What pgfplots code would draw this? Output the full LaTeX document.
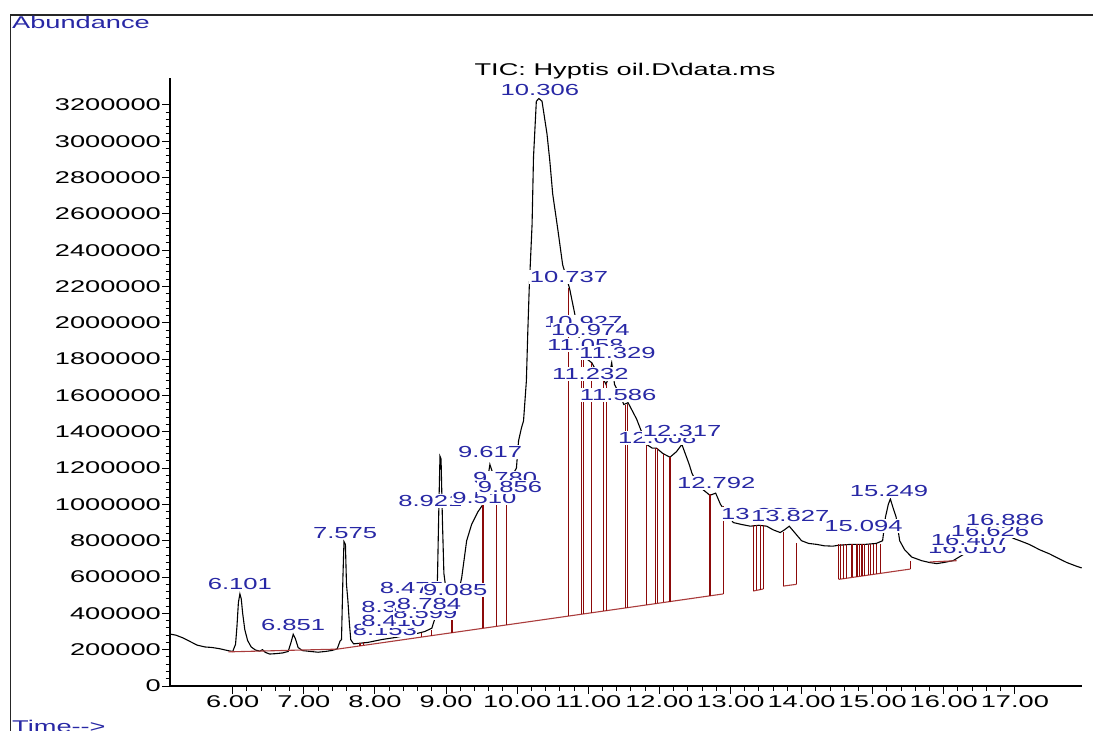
\documentclass[border=0pt]{standalone}
\usepackage{fontspec}
\setmainfont{Liberation Sans}
\newfontfamily\wide{Liberation Sans}[FakeStretch=1.6]
\usepackage{pgfplots}
\pgfplotsset{compat=1.18}
\definecolor{peakblue}{RGB}{40,40,165}
\definecolor{dropred}{RGB}{140,10,10}
\definecolor{basered}{RGB}{170,60,60}
\newcommand\tickfont{\wide\fontsize{17bp}{20bp}\selectfont}
\newcommand\pkfont{\wide\fontsize{16bp}{19bp}\selectfont}
\tikzset{pk/.style={font=\pkfont, text=peakblue, fill=white, inner xsep=0.5bp, inner ysep=1bp}}

\begin{document}
\begin{tikzpicture}
\useasboundingbox (0bp,0bp) rectangle (1093bp,731bp);
% outer frame
\draw[line width=1.2bp, black!85] (10.5bp,-5bp) -- (10.5bp,716bp) -- (1100bp,716bp);
\node[anchor=base west, text=peakblue, font=\tickfont, inner sep=0] at (12bp,702bp) {Abundance};
\node[anchor=base west, text=peakblue, font=\tickfont, inner sep=0] at (12bp,-1bp) {Time-{}-{}>};
\node[anchor=base, font=\tickfont, inner sep=0] at (625bp,655bp) {TIC: Hyptis oil.D\textbackslash data.ms};

\begin{axis}[
  at={(170bp,45bp)}, anchor=south west,
  scale only axis, width=911.7bp, height=608bp,
  xmin=5.118, xmax=17.94, ymin=0, ymax=3348000,
  axis x line=bottom, axis y line=left,
  axis line style={-, line width=1.2bp, black},
  xtick={6,7,8,9,10,11,12,13,14,15,16,17}, minor x tick num=4,
  ytick={0,200000,400000,600000,800000,1000000,1200000,1400000,1600000,1800000,2000000,2200000,2400000,2600000,2800000,3000000,3200000},
  minor y tick num=4,
  tick align=outside, major tick length=8bp, minor tick length=4.5bp,
  every tick/.style={line width=1bp, black},
  scaled y ticks=false, scaled x ticks=false,
  xticklabel style={font=\tickfont, inner sep=1bp,
    /pgf/number format/.cd, fixed, fixed zerofill, precision=2, assume math mode=true},
  yticklabel style={font=\tickfont, inner sep=1bp,
    /pgf/number format/.cd, fixed, precision=0, 1000 sep={}, assume math mode=true},
  clip=false,
  unbounded coords=jump,
]
% total ion chromatogram
\addplot[black, line width=1.1bp] coordinates {
(5.12,286000)(5.20,280000)(5.30,265000)(5.40,245000)(5.50,225000)(5.61,215000)
(5.71,212000)(5.82,205000)(5.93,195000)(6.00,190000)(6.04,230000)(6.06,330000)
(6.08,460000)(6.101,507000)(6.12,480000)(6.14,400000)(6.17,310000)(6.21,250000)
(6.26,215000)(6.32,198000)(6.38,192000)(6.42,200000)(6.46,185000)(6.52,176000)
(6.60,178000)(6.70,182000)(6.78,190000)(6.82,240000)(6.851,285000)(6.88,262000)
(6.92,212000)(6.98,195000)(7.10,190000)(7.20,186000)(7.30,190000)(7.40,196000)
(7.47,205000)(7.51,248000)(7.53,255000)(7.55,600000)(7.565,795000)(7.585,780000)
(7.60,560000)(7.62,470000)(7.64,350000)(7.66,255000)(7.70,232000)(7.80,236000)
(7.90,240000)(8.00,248000)(8.10,256000)(8.20,262000)(8.30,268000)(8.40,276000)
(8.50,283000)(8.60,290000)(8.70,300000)(8.80,318000)(8.85,380000)(8.88,600000)
(8.90,1000000)(8.915,1265000)(8.93,1250000)(8.95,900000)(8.97,620000)(8.99,560000)
(9.03,430000)(9.08,370000)(9.14,450000)(9.22,596000)(9.29,800000)(9.36,890000)
(9.45,960000)(9.52,1000000)(9.57,1100000)(9.617,1220000)(9.65,1180000)(9.71,1120000)
(9.78,1150000)(9.82,1100000)(9.856,1120000)(9.92,1150000)(9.99,1200000)(10.02,1350000)
(10.06,1420000)(10.09,1460000)(10.13,1680000)(10.15,1950000)(10.17,2190000)
(10.21,2540000)(10.23,2910000)(10.27,3220000)(10.306,3235000)(10.35,3220000)
(10.42,3040000)(10.46,2890000)(10.50,2710000)(10.57,2520000)(10.64,2320000)
(10.737,2190000)(10.81,2050000)(10.88,1900000)(10.95,1810000)(11.05,1780000)
(11.12,1730000)(11.20,1700000)(11.25,1660000)(11.30,1720000)(11.33,1780000)
(11.37,1660000)(11.45,1600000)(11.50,1550000)(11.56,1560000)(11.68,1470000)
(11.75,1400000)(11.82,1330000)(11.90,1310000)(11.96,1310000)(12.05,1280000)
(12.15,1260000)(12.24,1290000)(12.317,1330000)(12.42,1220000)(12.46,1170000)
(12.55,1100000)(12.65,1070000)(12.71,1050000)(12.792,1062000)(12.86,1000000)
(12.95,950000)(13.04,900000)(13.15,890000)(13.28,880000)(13.40,885000)(13.51,880000)
(13.60,860000)(13.70,845000)(13.76,860000)(13.827,880000)(13.87,860000)(13.92,837000)
(14.00,800000)(14.10,785000)(14.21,780000)(14.32,772000)(14.44,770000)(14.52,775000)
(14.70,780000)(14.90,780000)(15.05,785000)(15.14,800000)(15.18,930000)(15.22,1000000)
(15.249,1030000)(15.28,990000)(15.33,930000)(15.38,800000)(15.45,750000)(15.55,710000)
(15.69,690000)(15.80,680000)(15.90,674000)(16.00,680000)(16.13,690000)(16.30,730000)
(16.50,770000)(16.70,800000)(16.886,830000)(17.00,810000)(17.07,800000)(17.20,780000)
(17.35,750000)(17.49,727000)(17.60,705000)(17.73,680000)(17.85,662000)(17.94,650000)
};
% integration baselines
\addplot[basered, line width=1.1bp] coordinates {(5.94,188000)(7.47,203000)(12.90,507000)};
\addplot[basered, line width=1.1bp] coordinates {(13.32,523000)(13.46,534000)};
\addplot[basered, line width=1.1bp] coordinates {(13.74,550000)(13.93,560000)};
\addplot[basered, line width=1.1bp] coordinates {(14.52,587000)(15.53,644000)};
\addplot[basered, line width=1.1bp] coordinates {(15.80,683000)(16.18,690000)};
% peak boundary drop lines
\addplot[dropred, line width=1.1bp] coordinates {
(7.78,221000)(7.78,235000)(7.78,nan)
(7.80,222000)(7.80,238000)(7.80,nan)
(7.84,225000)(7.84,240000)(7.84,nan)
(8.66,270000)(8.66,290000)(8.66,nan)
(8.80,278000)(8.80,310000)(8.80,nan)
(9.075,294000)(9.075,370000)(9.075,nan)
(9.085,294000)(9.085,370000)(9.085,nan)
(9.52,318000)(9.52,1000000)(9.52,nan)
(9.71,329000)(9.71,1120000)(9.71,nan)
(9.845,337000)(9.845,1120000)(9.845,nan)
(9.855,337000)(9.855,1120000)(9.855,nan)
(10.72,385000)(10.72,2190000)(10.72,nan)
(10.91,396000)(10.91,1890000)(10.91,nan)
(10.93,397000)(10.93,1870000)(10.93,nan)
(11.05,404000)(11.05,1780000)(11.05,nan)
(11.21,413000)(11.21,1690000)(11.21,nan)
(11.26,415000)(11.26,1670000)(11.26,nan)
(11.52,430000)(11.52,1550000)(11.52,nan)
(11.55,432000)(11.55,1555000)(11.55,nan)
(11.82,447000)(11.82,1330000)(11.82,nan)
(11.94,453000)(11.94,1310000)(11.94,nan)
(11.98,456000)(11.98,1310000)(11.98,nan)
(12.06,460000)(12.06,1280000)(12.06,nan)
(12.15,465000)(12.15,1260000)(12.15,nan)
(12.705,496000)(12.705,1055000)(12.705,nan)
(12.715,496000)(12.715,1055000)(12.715,nan)
(12.90,507000)(12.90,990000)(12.90,nan)
(13.32,523000)(13.32,885000)(13.32,nan)
(13.37,526000)(13.37,885000)(13.37,nan)
(13.42,530000)(13.42,885000)(13.42,nan)
(13.46,534000)(13.46,885000)(13.46,nan)
(13.74,550000)(13.74,850000)(13.74,nan)
(13.93,560000)(13.93,785000)(13.93,nan)
(14.52,587000)(14.52,780000)(14.52,nan)
(14.55,589000)(14.55,780000)(14.55,nan)
(14.59,591000)(14.59,780000)(14.59,nan)
(14.63,593000)(14.63,780000)(14.63,nan)
(14.71,598000)(14.71,780000)(14.71,nan)
(14.78,602000)(14.78,780000)(14.78,nan)
(14.81,603000)(14.81,780000)(14.81,nan)
(14.85,606000)(14.85,780000)(14.85,nan)
(14.89,608000)(14.89,780000)(14.89,nan)
(14.94,611000)(14.94,780000)(14.94,nan)
(14.97,612000)(14.97,780000)(14.97,nan)
(15.01,615000)(15.01,780000)(15.01,nan)
(15.06,617000)(15.06,780000)(15.06,nan)
(15.11,620000)(15.11,780000)(15.11,nan)
(15.53,644000)(15.53,688000)
};
% retention time labels
\node[pk] at (axis cs:6.10,562000) {6.101};
\node[pk] at (axis cs:6.85,336000) {6.851};
\node[pk] at (axis cs:7.58,843000) {7.575};
\node[pk] at (axis cs:8.14,308000) {8.153};
\node[pk] at (axis cs:8.26,358000) {8.410};
\node[pk] at (axis cs:8.26,435000) {8.338};
\node[pk] at (axis cs:8.71,402000) {8.599};
\node[pk] at (axis cs:8.76,452000) {8.784};
\node[pk] at (axis cs:8.52,540000) {8.475};
\node[pk] at (axis cs:9.13,529000) {9.085};
\node[pk] at (axis cs:8.78,1019000) {8.921};
\node[pk] at (axis cs:9.54,1035000) {9.510};
\node[pk] at (axis cs:9.62,1289000) {9.617};
\node[pk] at (axis cs:9.83,1145000) {9.780};
\node[pk] at (axis cs:9.90,1096000) {9.856};
\node[pk] at (axis cs:10.32,3282000) {10.306};
\node[pk] at (axis cs:10.73,2252000) {10.737};
\node[pk] at (axis cs:10.93,2004000) {10.927};
\node[pk] at (axis cs:10.96,1878000) {11.058};
\node[pk] at (axis cs:11.03,1960000) {10.974};
\node[pk] at (axis cs:11.41,1834000) {11.329};
\node[pk] at (axis cs:11.03,1718000) {11.232};
\node[pk] at (axis cs:11.42,1602000) {11.586};
\node[pk] at (axis cs:11.97,1366000) {12.068};
\node[pk] at (axis cs:12.32,1404000) {12.317};
\node[pk] at (axis cs:12.80,1118000) {12.792};
\node[pk] at (axis cs:13.42,947000) {13.368};
\node[pk] at (axis cs:13.84,936000) {13.827};
\node[pk] at (axis cs:15.23,1074000) {15.249};
\node[pk] at (axis cs:14.87,881000) {15.094};
\node[pk] at (axis cs:16.33,760000) {16.010};
\node[pk] at (axis cs:16.37,804000) {16.407};
\node[pk] at (axis cs:16.65,854000) {16.626};
\node[pk] at (axis cs:16.86,914000) {16.886};
\end{axis}
\end{tikzpicture}
\end{document}
